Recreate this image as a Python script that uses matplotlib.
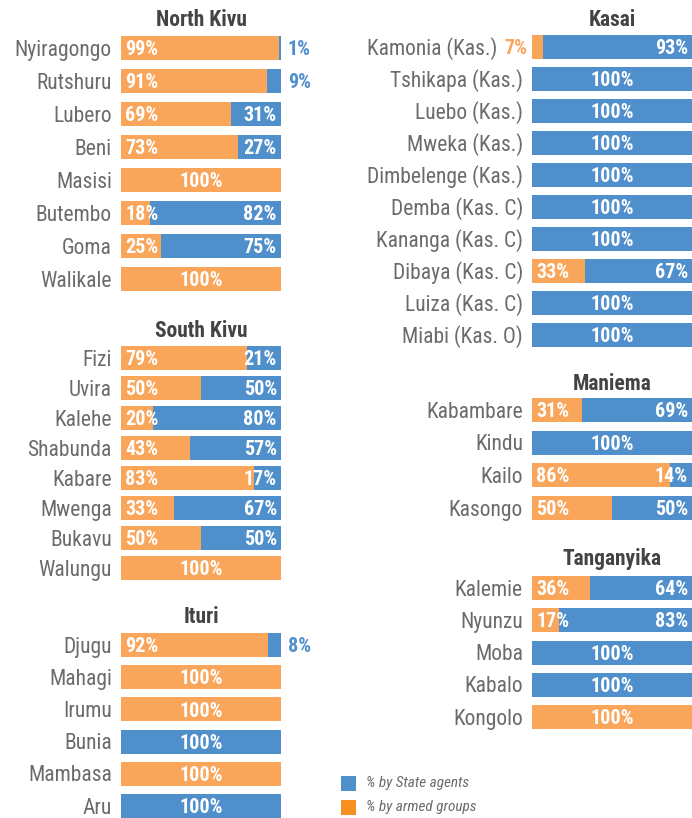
import matplotlib
matplotlib.use("Agg")
import matplotlib.pyplot as plt
from matplotlib.patches import Rectangle

plt.rcParams['font.family'] = ['Roboto Condensed', 'Liberation Sans Narrow', 'Roboto', 'DejaVu Sans']

ORANGE = '#F9A55A'
BLUE = '#4F8FCC'
LEG_ORANGE = '#F7901E'
GRAY = '#6b6b6b'
DARK = '#444444'

# data: share of incidents by armed groups / by State agents (%)
nk_names = ['Nyiragongo', 'Rutshuru', 'Lubero', 'Beni', 'Masisi', 'Butembo', 'Goma', 'Walikale']
nk_armed = [99, 91, 69, 73, 100, 18, 25, 100]
nk_state = [1, 9, 31, 27, 0, 82, 75, 0]

sk_names = ['Fizi', 'Uvira', 'Kalehe', 'Shabunda', 'Kabare', 'Mwenga', 'Bukavu', 'Walungu']
sk_armed = [79, 50, 20, 43, 83, 33, 50, 100]
sk_state = [21, 50, 80, 57, 17, 67, 50, 0]

it_names = ['Djugu', 'Mahagi', 'Irumu', 'Bunia', 'Mambasa', 'Aru']
it_armed = [92, 100, 100, 0, 100, 0]
it_state = [8, 0, 0, 100, 0, 100]

ka_names = ['Kamonia (Kas.)', 'Tshikapa (Kas.)', 'Luebo (Kas.)', 'Mweka (Kas.)', 'Dimbelenge (Kas.)',
            'Demba (Kas. C)', 'Kananga (Kas. C)', 'Dibaya (Kas. C)', 'Luiza (Kas. C)', 'Miabi (Kas. O)']
ka_armed = [7, 0, 0, 0, 0, 0, 0, 33, 0, 0]
ka_state = [93, 100, 100, 100, 100, 100, 100, 67, 100, 100]

ma_names = ['Kabambare', 'Kindu', 'Kailo', 'Kasongo']
ma_armed = [31, 0, 86, 50]
ma_state = [69, 100, 14, 50]

ta_names = ['Kalemie', 'Nyunzu', 'Moba', 'Kabalo', 'Kongolo']
ta_armed = [36, 17, 0, 0, 100]
ta_state = [64, 83, 100, 100, 0]

W, H = 692, 818
fig = plt.figure(figsize=(W / 100, H / 100), dpi=100)

LAB_FS, VAL_FS, TTL_FS = 15.5, 14.5, 15.5
CAP = 0.711  # cap height / font size


def panel(title, names, armed, state, x0, y_first, y_last, title_y):
    n = len(names)
    pitch = (y_last - y_first) / (n - 1)
    top = y_first - pitch / 2
    bottom = y_last + pitch / 2
    ax = fig.add_axes([x0 / W, 1 - bottom / H, 160 / W, (bottom - top) / H])
    ys = list(range(n))
    bh = 24 / pitch
    ax.barh(ys, armed, height=bh, color=ORANGE, linewidth=0)
    ax.barh(ys, state, left=armed, height=bh, color=BLUE, linewidth=0)
    ax.set_xlim(0, 100)
    ax.set_ylim(n - 0.5, -0.5)
    ax.set_xticks([])
    ax.set_yticks([])
    for s in ax.spines.values():
        s.set_visible(False)
    ax.patch.set_alpha(0)
    dv = -VAL_FS * CAP / 2
    kw = dict(va='baseline', fontsize=VAL_FS, fontweight='bold', textcoords='offset points',
              annotation_clip=False)
    for i, (name, a, b) in enumerate(zip(names, armed, state)):
        # category label, pushed left when a small orange value sits outside the bar
        shift = 26 if 0 < a < 10 else 0
        ax.annotate(name, (0, i), xytext=(-6.5 - shift * 0.72, -LAB_FS * CAP / 2),
                    textcoords='offset points', ha='right', va='baseline',
                    fontsize=LAB_FS, color=GRAY, annotation_clip=False)
        if a == 100 or b == 100:
            ax.annotate('100%', (50, i), xytext=(0, dv), ha='center', color='white', **kw)
            continue
        if a < 10:
            ax.annotate(f'{a}%', (0, i), xytext=(-3.5, dv), ha='right', color=ORANGE, **kw)
        else:
            ax.annotate(f'{a}%', (0, i), xytext=(3, dv), ha='left', color='white', **kw)
        if b < 10:
            ax.annotate(f'{b}%', (100, i), xytext=(5, dv), ha='left', color=BLUE, **kw)
        else:
            ax.annotate(f'{b}%', (100, i), xytext=(-3, dv), ha='right', color='white', **kw)
    fig.text((x0 + 80) / W, 1 - (title_y + TTL_FS * CAP / 2 * 100 / 72) / H, title,
             ha='center', va='baseline', fontsize=TTL_FS, fontweight='bold', color=DARK)


panel('North Kivu', nk_names, nk_armed, nk_state, 121, 48, 279, 18)
panel('South Kivu', sk_names, sk_armed, sk_state, 121, 358, 568, 329)
panel('Ituri', it_names, it_armed, it_state, 121, 645, 806, 615)
panel('Kasai', ka_names, ka_armed, ka_state, 532, 47, 335, 18)
panel('Maniema', ma_names, ma_armed, ma_state, 532, 410, 508, 382)
panel('Tanganyika', ta_names, ta_armed, ta_state, 532, 588, 717, 557)

# legend
for yc, col, lab in [(783, BLUE, '% by State agents'), (807, LEG_ORANGE, '% by armed groups')]:
    fig.patches.append(Rectangle((341 / W, 1 - (yc + 7.5) / H), 15 / W, 15 / H,
                                 transform=fig.transFigure, color=col, linewidth=0))
    fig.text(366 / W, 1 - yc / H, lab, ha='left', va='center', fontsize=11,
             style='italic', color=GRAY)

fig.savefig('out.png', dpi=100)
